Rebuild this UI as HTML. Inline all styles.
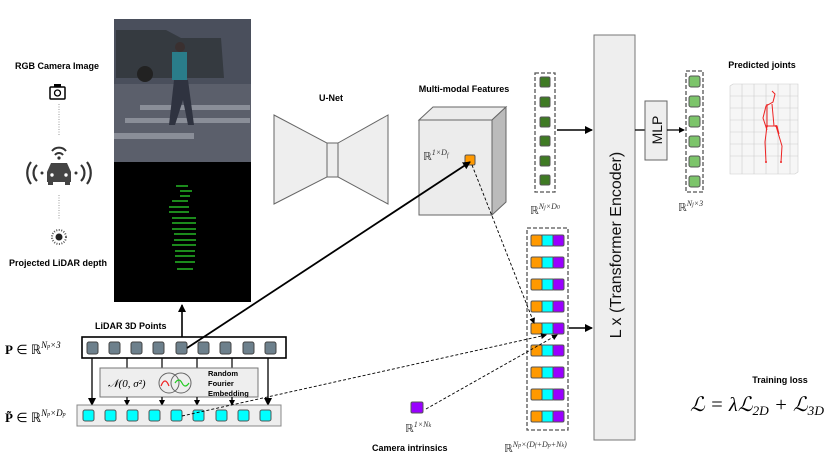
<!DOCTYPE html>
<html><head><meta charset="utf-8"><style>
body{margin:0;background:#fff}
svg{display:block;font-family:"Liberation Sans",sans-serif}
.b{font-weight:bold;font-size:9px}
.m{font-family:"Liberation Serif",serif}
</style></head><body>
<svg width="830" height="462" viewBox="0 0 830 462" xmlns="http://www.w3.org/2000/svg">
<defs>
<marker id="a" markerWidth="8" markerHeight="8" refX="7" refY="4" orient="auto" markerUnits="userSpaceOnUse"><path d="M0,0L8,4L0,8z" fill="#000"/></marker>
<marker id="s" markerWidth="6" markerHeight="6" refX="5" refY="3" orient="auto" markerUnits="userSpaceOnUse"><path d="M0,0L6,3L0,6z" fill="#000"/></marker>
</defs>

<!-- left labels/icons -->
<text x="57" y="69" class="b" text-anchor="middle">RGB Camera Image</text>
<rect x="50" y="87" width="15" height="12" fill="none" stroke="#000" stroke-width="1.5" rx="1"/>
<rect x="54" y="84" width="7" height="3" fill="#000"/>
<circle cx="57.5" cy="93" r="3" fill="none" stroke="#000" stroke-width="1.3"/>
<line x1="59" y1="104" x2="59" y2="135" stroke="#999" stroke-dasharray="1,1.5"/>
<path d="M52,151 a9,9 0 0 1 14,0" fill="none" stroke="#333" stroke-width="2"/>
<path d="M55,155 a5,5 0 0 1 8,0" fill="none" stroke="#333" stroke-width="2"/>
<circle cx="59" cy="158" r="1.6" fill="#333"/>
<path d="M47,172 l4,-9 h16 l4,9 v10 h-24z" fill="#444"/>
<rect x="48" y="181" width="5" height="4" fill="#444"/><rect x="65" y="181" width="5" height="4" fill="#444"/>
<circle cx="52" cy="175" r="1.7" fill="#fff"/><circle cx="66" cy="175" r="1.7" fill="#fff"/>
<path d="M31,162 a18,18 0 0 0 0,22 M37,165 a11,11 0 0 0 0,16" fill="none" stroke="#333" stroke-width="2.2"/>
<path d="M87,162 a18,18 0 0 1 0,22 M81,165 a11,11 0 0 1 0,16" fill="none" stroke="#333" stroke-width="2.2"/>
<circle cx="42" cy="173" r="1.5" fill="#333"/><circle cx="76" cy="173" r="1.5" fill="#333"/>
<line x1="59" y1="195" x2="59" y2="220" stroke="#999" stroke-dasharray="1,1.5"/>
<circle cx="59" cy="237" r="3.5" fill="#222"/><circle cx="59" cy="237" r="7" fill="none" stroke="#555" stroke-dasharray="1,1.5" stroke-width="2"/>
<text x="58" y="266" class="b" text-anchor="middle">Projected LiDAR depth</text>

<!-- photo -->
<rect x="114" y="19" width="137" height="143" fill="#5a5f6e"/>
<rect x="114" y="19" width="137" height="65" fill="#4a4f5c"/>
<path d="M116,30 h50 l15,8 h40 l3,40 h-108z" fill="#353a40"/>
<circle cx="145" cy="74" r="8" fill="#222"/>
<rect x="114" y="84" width="137" height="78" fill="#5b5f6b"/>
<path d="M140,105 h110 v5 h-110z M125,118 h125 v5 h-125z M114,133 h80 v6 h-80z" fill="#8a8e98"/>
<path d="M172,52 h15 v28 h-15z" fill="#2a7d8a"/>
<path d="M174,80 l-5,45 h6 l8,-25 l5,25 h6 l-6,-45z" fill="#2f3340"/>
<circle cx="180" cy="47" r="5" fill="#3a3030"/>
<rect x="114" y="162" width="137" height="140" fill="#000"/>
<g fill="#1c8a1c">
<rect x="176" y="185" width="12" height="2"/><rect x="180" y="190" width="12" height="2"/><rect x="180" y="195" width="10" height="2"/>
<rect x="172" y="200" width="16" height="2"/><rect x="169" y="206" width="20" height="2"/><rect x="169" y="211" width="20" height="2"/>
<rect x="172" y="217" width="24" height="2"/><rect x="172" y="222" width="24" height="2"/><rect x="172" y="228" width="24" height="2"/>
<rect x="174" y="233" width="22" height="2"/><rect x="174" y="239" width="22" height="2"/><rect x="172" y="244" width="24" height="2"/>
<rect x="175" y="250" width="20" height="2"/><rect x="175" y="255" width="20" height="2"/><rect x="175" y="261" width="20" height="2"/><rect x="177" y="268" width="16" height="2"/>
</g>

<!-- U-Net -->
<text x="331" y="101" class="b" text-anchor="middle">U-Net</text>
<path d="M274,115 L327,143 V177 L274,204Z" fill="#eee" stroke="#666"/>
<path d="M388,115 L338,143 V177 L388,204Z" fill="#eee" stroke="#666"/>
<rect x="327" y="143" width="11" height="34" fill="#eee" stroke="#666"/>

<!-- cube -->
<text x="464" y="92" class="b" text-anchor="middle">Multi-modal Features</text>
<path d="M419,120 L433,107 H506 L492,120Z" fill="#ececec" stroke="#666"/>
<path d="M492,120 L506,107 V202 L492,215Z" fill="#bbb" stroke="#666"/>
<rect x="419" y="120" width="73" height="95" fill="#ececec" stroke="#666"/>
<text x="423" y="160" class="m" font-size="11" fill="#333">ℝ<tspan font-size="8" dy="-5" font-style="italic">1×D</tspan><tspan font-size="6" dy="2" font-style="italic">f</tspan></text>
<rect x="465" y="155" width="10" height="10" fill="#f90" stroke="#555" rx="1.5"/>

<!-- green column -->
<rect x="535" y="73" width="20" height="119" fill="none" stroke="#555" stroke-dasharray="4,2" stroke-width="1.3"/>
<g fill="#3f7a24" stroke="#555">
<rect x="540" y="77" width="10" height="10" rx="1.5"/><rect x="540" y="97" width="10" height="10" rx="1.5"/><rect x="540" y="117" width="10" height="10" rx="1.5"/>
<rect x="540" y="136" width="10" height="10" rx="1.5"/><rect x="540" y="156" width="10" height="10" rx="1.5"/><rect x="540" y="175" width="10" height="10" rx="1.5"/>
</g>
<text x="530" y="214" class="m" font-size="11" fill="#333">ℝ<tspan font-size="8" dy="-5" font-style="italic">N<tspan font-size="6">j</tspan>×D<tspan font-size="6">0</tspan></tspan></text>
<line x1="557" y1="130" x2="592" y2="130" stroke="#000" stroke-width="1.5" marker-end="url(#a)"/>

<!-- concatenated column -->
<rect x="527" y="228" width="41" height="202" fill="none" stroke="#555" stroke-dasharray="4,2" stroke-width="1.3"/>
<g stroke="#555">
<g id="r"><rect x="531" y="235" width="11" height="11" fill="#f90" rx="1.5"/><rect x="542" y="235" width="11" height="11" fill="#0ff"/><rect x="553" y="235" width="11" height="11" fill="#90f" rx="1.5"/></g>
<use href="#r" y="22"/><use href="#r" y="44"/><use href="#r" y="66"/><use href="#r" y="88"/><use href="#r" y="110"/><use href="#r" y="132"/><use href="#r" y="154"/><use href="#r" y="176"/>
</g>
<text x="504" y="452" class="m" font-size="11" fill="#333">ℝ<tspan font-size="8" dy="-5" font-style="italic">N<tspan font-size="6">p</tspan>×(D<tspan font-size="6">f</tspan>+D<tspan font-size="6">p</tspan>+N<tspan font-size="6">k</tspan>)</tspan></text>
<line x1="569" y1="328" x2="592" y2="328" stroke="#000" stroke-width="1.5" marker-end="url(#a)"/>

<!-- transformer -->
<rect x="594" y="35" width="41" height="405" fill="#eee" stroke="#777"/>
<text transform="translate(621,245) rotate(-90)" text-anchor="middle" font-size="16" fill="#111">L x (Transformer Encoder)</text>
<line x1="635" y1="130" x2="645" y2="130" stroke="#000" stroke-width="1.3"/>
<rect x="645" y="101" width="22" height="59" fill="#eee" stroke="#666"/>
<text transform="translate(662,130) rotate(-90)" text-anchor="middle" font-size="14" fill="#111">MLP</text>
<line x1="667" y1="130" x2="684" y2="130" stroke="#000" stroke-width="1.3" marker-end="url(#s)"/>

<!-- output column -->
<rect x="686" y="71" width="17" height="121" fill="none" stroke="#555" stroke-dasharray="4,2" stroke-width="1.3"/>
<g fill="#7cc46a" stroke="#555">
<rect x="689" y="76" width="11" height="11" rx="2"/><rect x="689" y="96" width="11" height="11" rx="2"/><rect x="689" y="116" width="11" height="11" rx="2"/>
<rect x="689" y="136" width="11" height="11" rx="2"/><rect x="689" y="156" width="11" height="11" rx="2"/><rect x="689" y="176" width="11" height="11" rx="2"/>
</g>
<text x="678" y="211" class="m" font-size="11" fill="#333">ℝ<tspan font-size="8" dy="-5" font-style="italic">N<tspan font-size="6">j</tspan>×3</tspan></text>

<!-- predicted joints -->
<text x="762" y="68" class="b" text-anchor="middle">Predicted joints</text>
<g stroke="#ccc" stroke-width=".6" fill="none">
<path d="M730,86 L733,84 H798 V172 L795,174 H730Z" fill="#f6f6f6"/>
<path d="M742,84V174 M754,84V174 M766,84V174 M778,84V174 M790,84V174 M730,96H798 M730,108H798 M730,120H798 M730,132H798 M730,144H798 M730,156H798"/>
</g>
<g stroke="#e22" stroke-width="1" fill="none">
<path d="M772,91 l3,3 -2,8 -7,4 -3,12 4,12 M767,104 v22 l10,0 l2,8 M767,126 l-2,16 l1,20 M776,126 l6,20 l-1,16 M772,104 l2,22"/>
</g>
<g fill="#e22"><circle cx="767" cy="126" r="1"/><circle cx="776" cy="126" r="1"/><circle cx="766" cy="162" r="1"/><circle cx="781" cy="162" r="1"/></g>

<!-- LiDAR rows -->
<text x="95" y="329" class="b">LiDAR 3D Points</text>
<text x="5" y="354" class="m" font-size="13"><tspan font-weight="bold">P</tspan> ∈ ℝ<tspan font-size="9" dy="-6" font-style="italic">N<tspan font-size="6">p</tspan>×3</tspan></text>
<text x="5" y="422" class="m" font-size="13"><tspan font-weight="bold">P̃</tspan> ∈ ℝ<tspan font-size="9" dy="-6" font-style="italic">N<tspan font-size="6">p</tspan>×D<tspan font-size="6">p</tspan></tspan></text>
<rect x="82" y="337" width="204" height="21" fill="#fff" stroke="#000" stroke-width="1.6"/>
<g fill="#6d808c" stroke="#444">
<rect x="87" y="342" width="11" height="12" rx="2"/><rect x="109" y="342" width="11" height="12" rx="2"/><rect x="131" y="342" width="11" height="12" rx="2"/>
<rect x="153" y="342" width="11" height="12" rx="2"/><rect x="176" y="342" width="11" height="12" rx="2"/><rect x="198" y="342" width="11" height="12" rx="2"/>
<rect x="220" y="342" width="11" height="12" rx="2"/><rect x="243" y="342" width="11" height="12" rx="2"/><rect x="265" y="342" width="11" height="12" rx="2"/>
</g>
<g stroke="#000" stroke-width="1.2">
<line x1="127" y1="358" x2="127" y2="368"/><line x1="162" y1="358" x2="162" y2="368"/><line x1="197" y1="358" x2="197" y2="368"/><line x1="232" y1="358" x2="232" y2="368"/>
</g>
<rect x="100" y="368" width="158" height="29" fill="#eee" stroke="#777"/>
<text x="108" y="387" class="m" font-size="11" font-style="italic">𝒩(0, σ²)</text>
<circle cx="169" cy="383" r="10" fill="none" stroke="#666"/><circle cx="181" cy="383" r="10" fill="none" stroke="#666"/>
<path d="M161,386 q4,-10 8,0" stroke="#e22" fill="none" stroke-width="1.2"/>
<path d="M175,383 q4,-6 7,0 q3,6 7,0" stroke="#2c2" fill="none" stroke-width="1.2"/>
<text x="208" y="376" font-size="7.5" font-weight="bold">Random</text>
<text x="208" y="386" font-size="7.5" font-weight="bold">Fourier</text>
<text x="208" y="396" font-size="7.5" font-weight="bold">Embedding</text>
<g stroke="#000" stroke-width="1.3">
<line x1="92" y1="358" x2="92" y2="405" marker-end="url(#a)"/><line x1="268" y1="358" x2="268" y2="405" marker-end="url(#a)"/>
<line x1="127" y1="397" x2="127" y2="405" marker-end="url(#s)"/><line x1="162" y1="397" x2="162" y2="405" marker-end="url(#s)"/>
<line x1="197" y1="397" x2="197" y2="405" marker-end="url(#s)"/><line x1="232" y1="397" x2="232" y2="405" marker-end="url(#s)"/>
</g>
<rect x="77" y="405" width="204" height="21" fill="#eee" stroke="#888"/>
<g fill="#0ff" stroke="#555">
<rect x="83" y="410" width="11" height="11" rx="2"/><rect x="105" y="410" width="11" height="11" rx="2"/><rect x="127" y="410" width="11" height="11" rx="2"/>
<rect x="149" y="410" width="11" height="11" rx="2"/><rect x="171" y="410" width="11" height="11" rx="2"/><rect x="193" y="410" width="11" height="11" rx="2"/>
<rect x="216" y="410" width="11" height="11" rx="2"/><rect x="238" y="410" width="11" height="11" rx="2"/><rect x="260" y="410" width="11" height="11" rx="2"/>
</g>

<!-- connectors -->
<line x1="182" y1="337" x2="182" y2="305" stroke="#000" stroke-width="1.6" marker-end="url(#a)"/>
<line x1="187" y1="348" x2="470" y2="162" stroke="#000" stroke-width="1.8" marker-end="url(#a)"/>
<g stroke="#000" stroke-width=".9" stroke-dasharray="3,2" fill="none">
<line x1="472" y1="165" x2="534" y2="323" marker-end="url(#s)"/>
<line x1="182" y1="416" x2="546" y2="335" marker-end="url(#s)"/>
<line x1="426" y1="409" x2="557" y2="335" marker-end="url(#s)"/>
</g>
<rect x="411" y="402" width="12" height="11" fill="#90f" stroke="#555" rx="1.5"/>
<text x="405" y="432" class="m" font-size="11" fill="#333">ℝ<tspan font-size="8" dy="-5" font-style="italic">1×N<tspan font-size="6">k</tspan></tspan></text>
<text x="372" y="451" class="b">Camera intrinsics</text>

<!-- loss -->
<text x="780" y="383" class="b" text-anchor="middle">Training loss</text>
<text x="690" y="411" class="m" font-size="20" font-style="italic" textLength="134" lengthAdjust="spacingAndGlyphs">ℒ = λℒ<tspan font-size="13" dy="4">2D</tspan><tspan dy="-4"> + ℒ</tspan><tspan font-size="13" dy="4">3D</tspan></text>
</svg>
</body></html>
